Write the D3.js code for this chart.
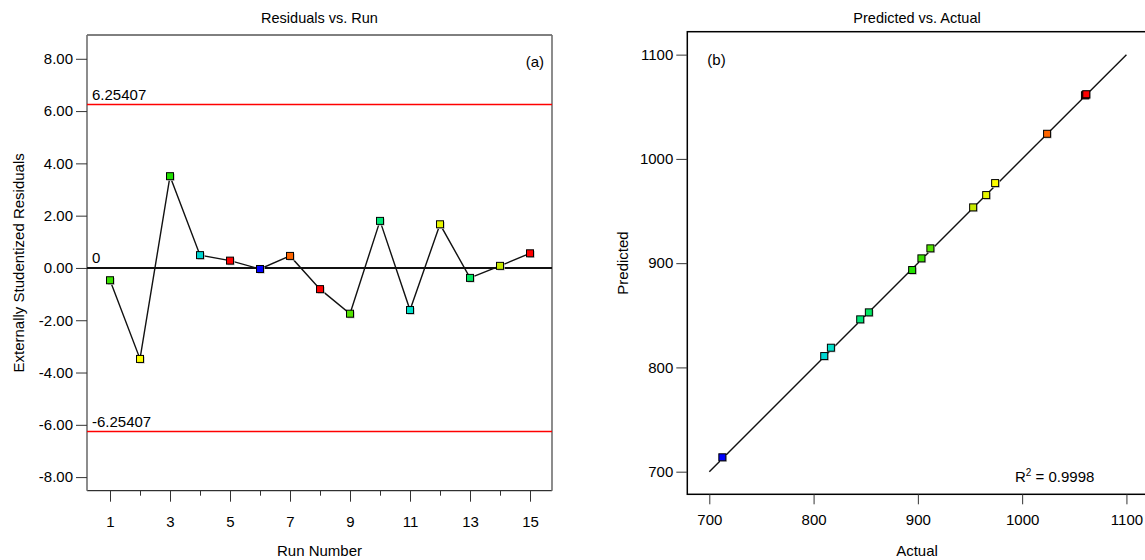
<!DOCTYPE html>
<html>
<head>
<meta charset="utf-8">
<script src="https://cdn.jsdelivr.net/npm/d3@7"></script>
<style>
  html, body { margin: 0; padding: 0; background: #fff; }
  svg { display: block; font-family: "Liberation Sans", Arial, sans-serif; }
</style>
</head>
<body>
<svg id="chart" width="1145" height="560"></svg>
<script>
// ---------- data ----------
const runs = [1, 2, 3, 4, 5, 6, 7, 8, 9, 10, 11, 12, 13, 14, 15];
const residuals = [-0.47, -3.48, 3.51, 0.49, 0.28, -0.04, 0.46, -0.81, -1.75, 1.80, -1.61, 1.67, -0.38, 0.08, 0.56];
const actual    = [903.4, 974.1, 894.5, 810.2, 1060.2, 712.5, 1023.9, 1061.0, 912.0, 844.7, 816.6, 965.5, 853.0, 953.0, 1061.5];
const predicted = [904.6, 976.8, 893.4, 810.9, 1061.0, 713.8, 1024.1, 1061.6, 914.2, 846.1, 818.9, 965.3, 852.8, 953.5, 1062.0];
const limit = 6.25407;
const residTicks = [-8, -6, -4, -2, 0, 2, 4, 6, 8];
const runTicksMajor = [1, 3, 5, 7, 9, 11, 13, 15];
const runTicksMinor = [2, 4, 6, 8, 10, 12, 14];
const pvaTicks = [700, 800, 900, 1000, 1100];
const r2Value = "0.9998";

// colour gradient by response value (low blue -> high red)
const colorStops = [712, 815, 850, 895, 953, 975, 1024, 1060];
const colorRange = ["#0000ff", "#00e0d0", "#00e868", "#22e000", "#c8ea00", "#ffff00", "#ff6600", "#ff0000"];
const color = d3.scaleLinear().domain(colorStops).range(colorRange).clamp(true);

const svg = d3.select("#chart");
const FONT = 15;
const SQ = 7;

function drawSquares(g, pts, xs, ys) {
  const grp = g.append("g");
  grp.selectAll("rect.sh").data(pts).join("rect")
    .attr("class", "sh")
    .attr("x", d => xs(d.x) - SQ / 2 + 1.2)
    .attr("y", d => ys(d.y) - SQ / 2 + 1.2)
    .attr("width", SQ).attr("height", SQ)
    .attr("fill", "#c8c8c8");
  grp.selectAll("rect.pt").data(pts).join("rect")
    .attr("class", "pt")
    .attr("x", d => xs(d.x) - SQ / 2)
    .attr("y", d => ys(d.y) - SQ / 2)
    .attr("width", SQ).attr("height", SQ)
    .attr("fill", d => color(d.c))
    .attr("stroke", "#000").attr("stroke-width", 1);
}

function styleAxis(sel) {
  sel.select(".domain").remove();
  sel.selectAll("text").attr("font-size", FONT).attr("font-family", "Liberation Sans, Arial, sans-serif").attr("fill", "#000");
  sel.selectAll("line").attr("stroke", "#333");
}

// ---------- panel (a): Residuals vs Run ----------
{
  const L = 87, R = 552, T = 35, B = 490.7;
  const x = d3.scaleLinear().domain([0.233, 15.733]).range([L, R]);
  const y = d3.scaleLinear().domain([-8.52, 8.91]).range([B, T]);
  const g = svg.append("g");

  g.append("line").attr("x1", L).attr("x2", R).attr("y1", T).attr("y2", T).attr("stroke", "#000").attr("stroke-width", 1);
  g.append("line").attr("x1", L).attr("x2", R).attr("y1", B).attr("y2", B).attr("stroke", "#000").attr("stroke-width", 1);
  g.append("line").attr("x1", L).attr("x2", L).attr("y1", T).attr("y2", B).attr("stroke", "#707070").attr("stroke-width", 1.6);
  g.append("line").attr("x1", R).attr("x2", R).attr("y1", T).attr("y2", B).attr("stroke", "#707070").attr("stroke-width", 1.6);

  const ya = d3.axisLeft(y).tickValues(residTicks).tickFormat(d => d.toFixed(2)).tickSize(11).tickPadding(3);
  g.append("g").attr("transform", `translate(${L},0)`).call(ya).call(styleAxis);

  const xa = d3.axisBottom(x).tickValues(runTicksMajor).tickFormat(d => String(d)).tickSize(11).tickPadding(15);
  g.append("g").attr("transform", `translate(0,${B})`).call(xa).call(styleAxis);
  const xm = d3.axisBottom(x).tickValues(runTicksMinor).tickFormat("").tickSize(5);
  g.append("g").attr("transform", `translate(0,${B})`).call(xm).call(styleAxis);

  [limit, -limit].forEach(v => {
    g.append("line").attr("x1", L).attr("x2", R).attr("y1", y(v)).attr("y2", y(v))
      .attr("stroke", "#ff0000").attr("stroke-width", 1.5);
  });
  g.append("line").attr("x1", L).attr("x2", R).attr("y1", y(0)).attr("y2", y(0))
    .attr("stroke", "#111").attr("stroke-width", 2);

  g.append("text").attr("x", L + 5).attr("y", y(limit) - 4).attr("font-size", FONT).text(String(limit));
  g.append("text").attr("x", L + 5).attr("y", y(0) - 5).attr("font-size", FONT).text("0");
  g.append("text").attr("x", L + 5).attr("y", y(-limit) - 4).attr("font-size", FONT).text("-" + String(limit));

  const pts = runs.map((r, i) => ({ x: r, y: residuals[i], c: actual[i] }));
  g.append("path").datum(pts)
    .attr("d", d3.line().x(d => x(d.x)).y(d => y(d.y)))
    .attr("fill", "none").attr("stroke", "#111").attr("stroke-width", 1.4);
  drawSquares(g, pts, x, y);

  g.append("text").attr("x", (L + R) / 2).attr("y", 23).attr("text-anchor", "middle").attr("font-size", 14.5).text("Residuals vs. Run");
  g.append("text").attr("x", R - 8).attr("y", 67).attr("text-anchor", "end").attr("font-size", FONT).text("(a)");
  g.append("text").attr("x", (L + R) / 2).attr("y", 556).attr("text-anchor", "middle").attr("font-size", FONT).text("Run Number");
  g.append("text").attr("transform", `translate(24,${(T + B) / 2}) rotate(-90)`).attr("text-anchor", "middle").attr("font-size", FONT).text("Externally Studentized Residuals");
}

// ---------- panel (b): Predicted vs Actual ----------
{
  const L = 687.3, R = 1150, T = 31.7, B = 494.3;
  const x = d3.scaleLinear().domain([678.9, 1122.6]).range([L, R]);
  const y = d3.scaleLinear().domain([678.3, 1122]).range([B, T]);
  const g = svg.append("g");

  g.append("rect").attr("x", L).attr("y", T).attr("width", R - L).attr("height", B - T)
    .attr("fill", "none").attr("stroke", "#000").attr("stroke-width", 1.5);

  const ya = d3.axisLeft(y).tickValues(pvaTicks).tickFormat(d => String(d)).tickSize(11).tickPadding(3);
  g.append("g").attr("transform", `translate(${L},0)`).call(ya).call(styleAxis);

  const xa = d3.axisBottom(x).tickValues(pvaTicks).tickFormat(d => String(d)).tickSize(10).tickPadding(10);
  g.append("g").attr("transform", `translate(0,${B})`).call(xa).call(styleAxis);

  g.append("line").attr("x1", x(700)).attr("y1", y(700)).attr("x2", x(1100)).attr("y2", y(1100))
    .attr("stroke", "#111").attr("stroke-width", 1.4);

  const pts = actual.map((a, i) => ({ x: a, y: predicted[i], c: a }));
  drawSquares(g, pts, x, y);

  g.append("text").attr("x", 917).attr("y", 23).attr("text-anchor", "middle").attr("font-size", 14.5).text("Predicted vs. Actual");
  g.append("text").attr("x", L + 20).attr("y", 65).attr("font-size", FONT).text("(b)");
  const r2 = g.append("text").attr("x", 1015).attr("y", 482).attr("font-size", FONT);
  r2.append("tspan").text("R");
  r2.append("tspan").attr("dy", -6).attr("font-size", 10).text("2");
  r2.append("tspan").attr("dy", 6).text(" = " + r2Value);
  g.append("text").attr("x", 917).attr("y", 556).attr("text-anchor", "middle").attr("font-size", FONT).text("Actual");
  g.append("text").attr("transform", `translate(628,${(T + B) / 2}) rotate(-90)`).attr("text-anchor", "middle").attr("font-size", FONT).text("Predicted");
}
</script>
</body>
</html>
